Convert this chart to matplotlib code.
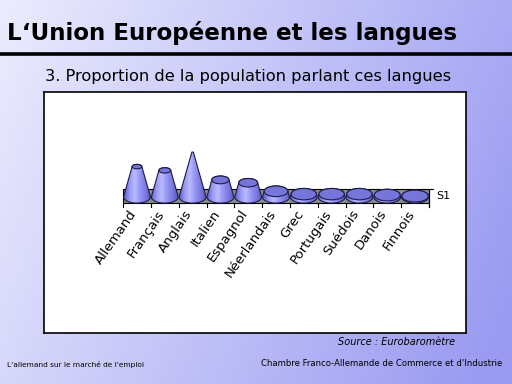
import matplotlib
matplotlib.use("Agg")
import matplotlib.pyplot as plt
import numpy as np
from matplotlib.colors import LinearSegmentedColormap, to_rgb
from matplotlib.patches import Ellipse, Polygon, Rectangle

# Share of EU population speaking each language (%), Eurobaromètre
languages = ["Allemand", "Français", "Anglais", "Italien", "Espagnol", "Néerlandais",
             "Grec", "Portugais", "Suédois", "Danois", "Finnois"]
shares = [32, 28, 47, 18, 15, 6, 3, 3, 3, 2, 1]
series_name = "S1"
cone_top = 50  # value where the cone comes to a point

W, H = 512, 384
fig = plt.figure(figsize=(W / 100, H / 100), dpi=100)


def fx(px):
    return px / W


def fy(py):
    return 1 - py / H


# slide background: light lavender top-left to stronger blue bottom-right
bg = fig.add_axes([0, 0, 1, 1])
bg.set_axis_off()
gx, gy = np.meshgrid(np.linspace(0, 1, 256), np.linspace(0, 1, 192))
t = np.clip(0.8 * gx + 0.25 * gy, 0, 1)
c0 = np.array(to_rgb("#ececfe"))
c1 = np.array(to_rgb("#9a9af2"))
img = c0 + (c1 - c0) * t[..., None]
bg.imshow(img, extent=[0, 1, 0, 1], aspect="auto", origin="upper")
bg.set_xlim(0, 1)
bg.set_ylim(0, 1)

fig.text(fx(7), fy(33), "L‘Union Européenne et les langues", fontsize=16.6,
         fontweight="bold", va="center", ha="left", color="black")
bg.plot([0, 1], [fy(54), fy(54)], color="black", linewidth=2.6)
fig.text(fx(45), fy(77), "3. Proportion de la population parlant ces langues",
         fontsize=11.7, va="center", ha="left", color="black")
fig.text(fx(455), fy(342), "Source : Eurobaromètre", fontsize=7, style="italic",
         va="center", ha="right", color="black")
fig.text(fx(7), fy(364), "L'allemand sur le marché de l'emploi", fontsize=5.3,
         va="center", ha="left", color="black")
fig.text(fx(502), fy(364), "Chambre Franco-Allemande de Commerce et d'Industrie",
         fontsize=6.1, va="center", ha="right", color="black")

# chart area
box_l, box_r, box_t, box_b = 44, 466, 92, 333
ax = fig.add_axes([fx(box_l), fy(box_b), (box_r - box_l) / W, (box_b - box_t) / H])
ax.set_facecolor("white")
for sp in ax.spines.values():
    sp.set_linewidth(1.2)
    sp.set_color("black")
ax.set_xticks([])
ax.set_yticks([])

px_per_cat = 27.8
px_per_unit = 0.95
x0_px, y0_px = 137, 197
ax.set_xlim((box_l - x0_px) / px_per_cat, (box_r - x0_px) / px_per_cat)
ax.set_ylim(-(box_b - y0_px) / px_per_unit, (y0_px - box_t) / px_per_unit)
ax.set_autoscale_on(False)

n = len(languages)
radius = 0.485
flat = 0.45 * 2 * px_per_cat / px_per_unit  # ellipse height (y units) per unit radius


def py(p):
    # pixel offset below the cone base -> y units
    return -p / px_per_unit


# floor
ax.add_patch(Rectangle((-0.5, py(6)), n, py(-8) - py(6), facecolor="#8c8c8c",
                       edgecolor="black", linewidth=0.8, zorder=1))
for i in range(n + 1):
    ax.plot([i - 0.5, i - 0.5], [py(6), py(10)], color="black", linewidth=0.8, zorder=1)
ax.plot([n - 0.5, n - 0.5], [py(-8), py(10)], color="black", linewidth=0.8, zorder=1)
ax.plot([n - 0.5, n - 0.35], [py(-8), py(-8)], color="black", linewidth=0.8, zorder=1)
ax.text(n - 0.25, py(-1), series_name, fontsize=8, va="center", ha="left")

body_cmap = LinearSegmentedColormap.from_list(
    "cone", ["#5c5cc4", "#9a9af6", "#babaff", "#9494f4", "#7a7ae0", "#5a5abc"])
grad = np.linspace(0, 1, 64)[None, :]

for i, v in enumerate(shares):
    rt = radius * (1 - v / cone_top)
    a = np.linspace(np.pi, 2 * np.pi, 40)
    bx = i + radius * np.cos(a)
    by = 0 + radius * flat / 2 * np.sin(a)
    a2 = np.linspace(0, np.pi, 30)
    tx = i + rt * np.cos(a2)
    ty = v + rt * flat / 2 * np.sin(a2)
    pts = np.column_stack([np.r_[bx, tx], np.r_[by, ty]])
    poly = Polygon(pts, closed=True, facecolor="none", edgecolor="#1c1c48",
                   linewidth=0.8, zorder=3 + i * 0.01)
    ax.add_patch(poly)
    im = ax.imshow(grad, cmap=body_cmap, extent=[i - radius, i + radius, -radius * flat / 2,
                   v + rt * flat / 2 + 1], aspect="auto", zorder=2 + i * 0.01)
    im.set_clip_path(poly)
    if rt > 0.03:
        ax.add_patch(Ellipse((i, v), 2 * rt, rt * flat, facecolor="#7676da",
                             edgecolor="#1c1c48", linewidth=0.8, zorder=3.5 + i * 0.01))
    ax.text(i - 0.1, py(14), languages[i], rotation=55, rotation_mode="anchor",
            ha="right", va="center", fontsize=9.5)

fig.savefig("out.png", dpi=100)
